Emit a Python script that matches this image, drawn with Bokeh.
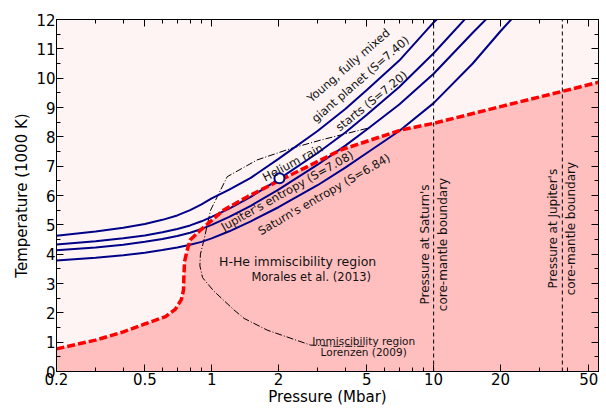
import numpy as np
from bokeh.plotting import figure
from bokeh.models import (FixedTicker, LogAxis, LinearAxis, Label, CustomJSTickFormatter, Range1d)
from bokeh.embed import file_html
from bokeh.resources import INLINE

# ---- data ----
x_major = [0.2, 0.5, 1, 2, 5, 10, 20, 50]
x_minor = [0.3, 0.4, 0.6, 0.7, 0.8, 0.9, 3, 4, 6, 7, 8, 9, 30, 40]
y_major = list(range(0, 13))
y_minor = [i + 0.5 for i in range(12)]

P_s740 = [0.2, 0.3, 0.4, 0.5, 0.6, 0.7, 0.8, 0.9, 1.0, 1.2, 1.5, 2, 3, 4, 5, 7, 10, 12]
T_s740 = [4.63, 4.77, 4.9, 5.03, 5.17, 5.32, 5.5, 5.7, 5.9, 6.2, 6.6, 7.25, 8.2, 8.95, 9.6, 10.6, 11.9, 12.5]
P_s720 = [0.2, 0.3, 0.4, 0.5, 0.6, 0.7, 0.8, 0.9, 1.0, 1.2, 1.5, 2, 3, 4, 5, 7, 10, 15]
T_s720 = [4.33, 4.44, 4.54, 4.64, 4.75, 4.86, 4.98, 5.12, 5.27, 5.55, 5.95, 6.55, 7.45, 8.15, 8.75, 9.7, 10.85, 12.3]
P_s708 = [0.2, 0.3, 0.4, 0.5, 0.6, 0.7, 0.8, 0.9, 1.0, 1.2, 1.5, 2, 3, 4, 5, 7, 10, 15, 20]
T_s708 = [4.13, 4.23, 4.32, 4.42, 4.52, 4.62, 4.73, 4.86, 5.0, 5.27, 5.65, 6.2, 7.05, 7.7, 8.25, 9.1, 10.15, 11.55, 12.5]
P_s684 = [0.2, 0.3, 0.4, 0.5, 0.6, 0.7, 0.8, 0.9, 1.0, 1.2, 1.5, 2, 3, 4, 5, 7, 10, 15, 20, 25]
T_s684 = [3.78, 3.88, 3.96, 4.05, 4.14, 4.23, 4.32, 4.42, 4.54, 4.78, 5.12, 5.6, 6.35, 6.95, 7.45, 8.2, 9.15, 10.5, 11.6, 12.4]

P_morales = [0.2, 0.3, 0.4, 0.5, 0.62, 0.687, 0.73, 0.747, 0.75, 0.755, 0.776, 0.8, 0.89, 1.13, 1.45, 2.02, 2.5, 3.81, 7.1, 10, 20, 38, 55.3]
T_morales = [0.77, 1.07, 1.35, 1.62, 1.87, 2.13, 2.45, 2.78, 3.3, 3.75, 4.14, 4.48, 4.82, 5.5, 5.96, 6.51, 6.86, 7.55, 8.23, 8.46, 9.03, 9.55, 9.86]

P_lorenzen = [5.02, 3.10, 2.27, 1.60, 1.175, 0.989, 0.923, 0.89, 0.885, 0.91, 1.02, 1.26, 1.40, 1.78, 2.79, 3.6, 5.0]
T_lorenzen = [8.29, 7.89, 7.60, 7.21, 6.64, 5.50, 4.48, 4.0, 3.6, 3.2, 2.75, 2.10, 1.81, 1.41, 0.90, 0.86, 0.86]

P_core = [10, 38]
rain_P = [2.02]
rain_T = [6.59]

BG = "#fff4f4"
FILL = "#ffbfbf"
BLUE = "#000088"
FONT = "DejaVu Sans"

p = figure(width=606, height=408, x_axis_type="log",
           x_range=Range1d(0.2, 55.3), y_range=Range1d(0, 12),
           output_backend="svg", toolbar_location=None,
           min_border_left=56, min_border_right=8, min_border_top=19, min_border_bottom=36)
p.background_fill_color = BG
p.border_fill_color = "white"
p.outline_line_color = "black"
p.grid.visible = False

fmt = CustomJSTickFormatter(code="return tick < 1 ? tick.toFixed(1) : tick.toFixed(0);")
blank = CustomJSTickFormatter(code="return '';")

def style(ax, labels=True):
    ax.major_tick_in = 7
    ax.major_tick_out = 0
    ax.minor_tick_in = 4
    ax.minor_tick_out = 0
    ax.axis_line_color = "black"
    ax.major_tick_line_color = "black"
    ax.minor_tick_line_color = "black"
    ax.major_label_text_font = FONT
    ax.major_label_text_color = "black"
    ax.axis_label_text_color = "black"
    if labels:
        ax.major_label_text_font_size = "15px"
        ax.major_label_standoff = 1
    else:
        ax.major_label_text_font_size = "0px"
        ax.major_label_standoff = 0

xt = FixedTicker(ticks=x_major, minor_ticks=x_minor)
yt = FixedTicker(ticks=y_major, minor_ticks=y_minor)

xa = p.xaxis[0]
xa.ticker = xt
xa.formatter = fmt
style(xa)
xa.axis_label = "Pressure (Mbar)"
xa.axis_label_text_font = FONT
xa.axis_label_text_font_size = "15px"
xa.axis_label_text_font_style = "normal"
xa.axis_label_standoff = 0

ya = p.yaxis[0]
ya.ticker = yt
style(ya)
ya.axis_label = "Temperature (1000 K)"
ya.axis_label_text_font = FONT
ya.axis_label_text_font_size = "15px"
ya.axis_label_text_font_style = "normal"
ya.axis_label_standoff = 2

top = LogAxis(ticker=xt, formatter=blank)
style(top, labels=False)
p.add_layout(top, "above")
right = LinearAxis(ticker=yt, formatter=blank)
style(right, labels=False)
p.add_layout(right, "right")

# region under the Morales boundary
p.varea(x=P_morales, y1=[0] * len(P_morales), y2=T_morales, fill_color=FILL)

# Lorenzen immiscibility region
p.line(P_lorenzen, T_lorenzen, line_color="black", line_width=1, line_dash="7 2 1 2")

for P, T in [(P_s740, T_s740), (P_s720, T_s720), (P_s708, T_s708), (P_s684, T_s684)]:
    p.line(P, T, line_color=BLUE, line_width=2)

p.line(P_morales, T_morales, line_color="red", line_width=3.5, line_dash="8 3")

p.segment(x0=P_core, y0=[0, 0], x1=P_core, y1=[12, 12], line_color="black", line_width=1, line_dash="4 3")

p.scatter(rain_P, rain_T, size=10, fill_color="white", line_color=BLUE, line_width=2)

def lab(x, y, text, size="12px", angle=0.0, align="center", baseline="middle", lh=1.2):
    p.add_layout(Label(x=x, y=y, text=text, text_font=FONT, text_font_size=size,
                       angle=angle, angle_units="deg", text_align=align, text_baseline=baseline,
                       text_color="#111111", text_line_height=lh))

lab(2.44, 3.74, "H-He immiscibility region", size="12.5px")
lab(2.81, 3.21, "Morales et al. (2013)", size="11.5px")
lab(4.84, 1.05, "Immiscibility region", size="10.5px")
lab(4.84, 0.675, "Lorenzen (2009)", size="10.5px")
lab(10, 4.33, "Pressure at Saturn's\ncore-mantle boundary", size="12px", angle=90, lh=1.3)
lab(38, 4.87, "Pressure at Jupiter's\ncore-mantle boundary", size="12px", angle=90, lh=1.3)
lab(4.4, 10.2, "Young, fully mixed\ngiant planet (S=7.40)", size="11.5px", angle=41, lh=1.3)
lab(2.32, 7.12, "Helium rain", size="11.5px", angle=28)
lab(5.25, 9.22, "starts (S=7.20)", size="11.5px", angle=39)
lab(2.19, 6.16, "Jupiter's entropy (S=7.08)", size="11.5px", angle=29.5)
lab(3.21, 6.04, "Saturn's entropy (S=6.84)", size="11.5px", angle=30)

open("out.html", "w").write(file_html(p, INLINE))
